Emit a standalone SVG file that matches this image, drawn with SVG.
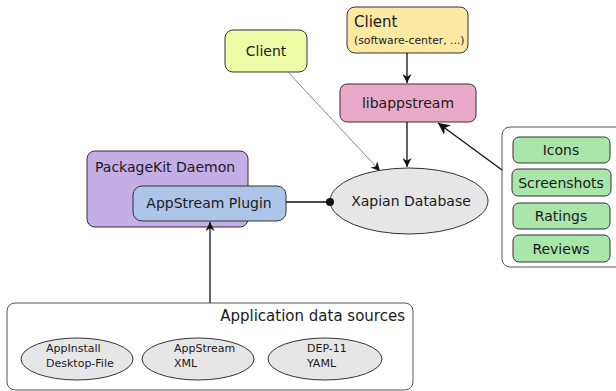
<svg xmlns="http://www.w3.org/2000/svg" width="616" height="391" viewBox="0 0 616 391">
<style>
text{font-family:"DejaVu Sans","Open Sans",sans-serif;fill:#1a1a1a}
.n{stroke:#333;stroke-width:1}
.t14{font-size:14px}
.t15{font-size:15px}
.t11{font-size:11px}
.c{text-anchor:middle}
.ln{stroke:#111;stroke-width:1.3;fill:none}
</style>
<defs>
<marker id="ah" viewBox="0 0 10 10" refX="10" refY="5" markerWidth="9" markerHeight="9" markerUnits="userSpaceOnUse" orient="auto">
<path d="M0,0 L10,5 L0,10 L3,5 z" fill="#111"/>
</marker>
<marker id="ahb" viewBox="0 0 10 10" refX="10" refY="5" markerWidth="12" markerHeight="12" markerUnits="userSpaceOnUse" orient="auto">
<path d="M0,0 L10,5 L0,10 L3,5 z" fill="#111"/>
</marker>
</defs>
<g id="sources">
<rect x="7" y="303" width="406" height="87" rx="8" fill="#fff" stroke="#555"/>
<text x="405" y="321" class="t15" text-anchor="end">Application data sources</text>
<ellipse cx="77" cy="359" rx="56" ry="21" fill="#e6e6e6" class="n"/>
<text x="46" y="352" class="t11">AppInstall</text>
<text x="46" y="367" class="t11">Desktop-File</text>
<ellipse cx="198" cy="359" rx="56" ry="21" fill="#e6e6e6" class="n"/>
<text x="174" y="352" class="t11">AppStream</text>
<text x="174" y="367" class="t11">XML</text>
<ellipse cx="325" cy="359" rx="57" ry="21" fill="#e6e6e6" class="n"/>
<text x="307" y="352" class="t11">DEP-11</text>
<text x="307" y="367" class="t11">YAML</text>
</g>
<g id="client1">
<rect x="225" y="30" width="82" height="42" rx="8" fill="#eefca8" class="n"/>
<text x="266" y="56" class="t14 c">Client</text>
</g>
<g id="client2">
<rect x="347" y="7" width="121" height="46" rx="8" fill="#fde9a4" class="n"/>
<text x="354" y="27" class="t15">Client</text>
<text x="354" y="44" style="font-size:10.8px">(software-center, ...)</text>
</g>
<g id="libappstream">
<rect x="340" y="84" width="136" height="38" rx="7" fill="#e8aac7" class="n"/>
<text x="408" y="108" class="t14 c">libappstream</text>
</g>
<g id="packagekit">
<rect x="87" y="151" width="161" height="76" rx="8" fill="#c4aee6" class="n"/>
<text x="95" y="172" class="t14">PackageKit Daemon</text>
</g>
<g id="plugin">
<rect x="133" y="186" width="153" height="35" rx="9" fill="#aec5ea" class="n"/>
<text x="209" y="208" class="t14 c">AppStream Plugin</text>
</g>
<g id="xapian">
<ellipse cx="409" cy="201" rx="79" ry="33" fill="#e6e6e6" class="n"/>
<text x="411" y="206" class="t14 c">Xapian Database</text>
</g>
<g id="extras">
<rect x="502" y="127" width="130" height="140" rx="8" fill="#fff" stroke="#555"/>
<rect x="513" y="137" width="97" height="26" rx="6" fill="#aae6aa" class="n"/>
<text x="561" y="155" class="t14 c">Icons</text>
<rect x="512" y="169" width="99" height="27" rx="6" fill="#aae6aa" class="n"/>
<text x="561" y="188" class="t14 c">Screenshots</text>
<rect x="513" y="203" width="97" height="26" rx="6" fill="#aae6aa" class="n"/>
<text x="561" y="221" class="t14 c">Ratings</text>
<rect x="513" y="235" width="97" height="27" rx="6" fill="#aae6aa" class="n"/>
<text x="561" y="254" class="t14 c">Reviews</text>
</g>
<g id="connectors">
<line x1="407" y1="53" x2="407" y2="83" class="ln" marker-end="url(#ah)"/>
<line x1="407" y1="122" x2="407" y2="167" class="ln" marker-end="url(#ah)"/>
<line x1="288" y1="72" x2="380" y2="171" stroke="#888" stroke-width="1" marker-end="url(#ah)"/>
<line x1="502" y1="170" x2="438" y2="123" class="ln" marker-end="url(#ahb)"/>
<line x1="210" y1="303" x2="210" y2="222" class="ln" marker-end="url(#ah)"/>
<line x1="286" y1="202" x2="330" y2="202" class="ln"/>
<circle cx="330" cy="202" r="4" fill="#111"/>
</g>
</svg>
